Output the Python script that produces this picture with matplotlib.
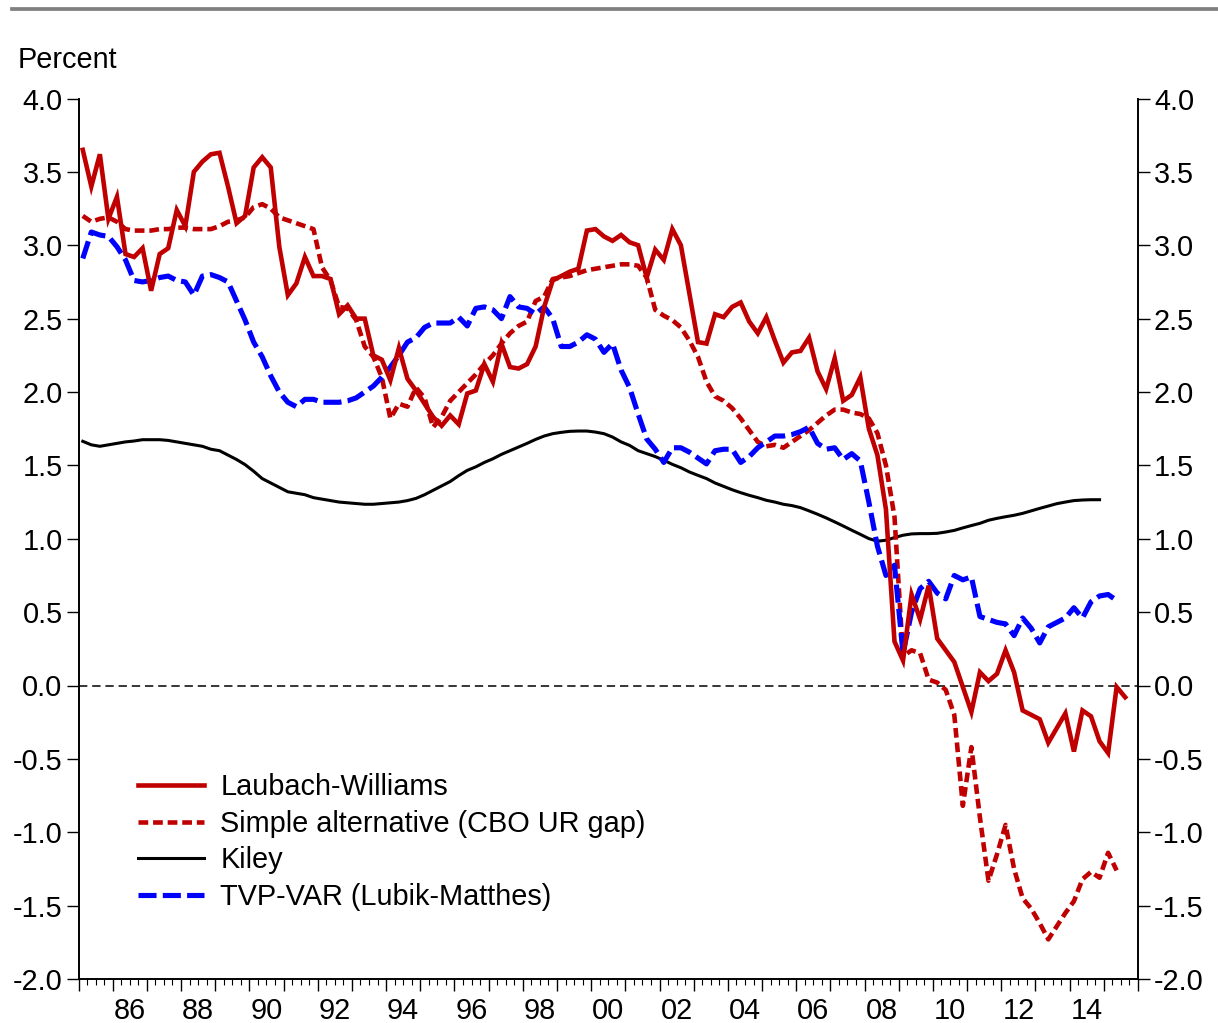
import numpy as np
import matplotlib
matplotlib.use("Agg")
import matplotlib.pyplot as plt
from matplotlib.lines import Line2D
from matplotlib.ticker import MultipleLocator, FixedLocator, NullFormatter

plt.rcParams["font.family"] = ["Liberation Sans", "DejaVu Sans"]
plt.rcParams["axes.unicode_minus"] = False
plt.rcParams["lines.scale_dashes"] = False

# quarterly estimates, first value = 1985Q1
START_YEAR = 1985

laubach_williams = [
    3.65, 3.40, 3.62, 3.18, 3.33, 2.94, 2.92, 2.98, 2.69, 2.94, 2.98, 3.24,
    3.13, 3.50, 3.57, 3.62, 3.63, 3.40, 3.15, 3.20, 3.53, 3.60, 3.53, 2.99,
    2.66, 2.74, 2.92, 2.79, 2.79, 2.77, 2.53, 2.59, 2.50, 2.50, 2.25, 2.22,
    2.08, 2.30, 2.09, 2.01, 1.92, 1.83, 1.77, 1.84, 1.78, 1.99, 2.01, 2.19,
    2.07, 2.33, 2.17, 2.16, 2.19, 2.31, 2.58, 2.76, 2.79, 2.82, 2.84, 3.10,
    3.11, 3.06, 3.03, 3.07, 3.02, 3.00, 2.78, 2.97, 2.90, 3.11, 3.00, 2.67,
    2.34, 2.33, 2.53, 2.51, 2.58, 2.61, 2.48, 2.40, 2.51, 2.35, 2.20, 2.27,
    2.28, 2.37, 2.14, 2.02, 2.23, 1.94, 1.98, 2.10, 1.75, 1.57, 1.20, 0.30,
    0.17, 0.62, 0.45, 0.68, 0.32, 0.24, 0.16, -0.01, -0.18, 0.09, 0.03, 0.08,
    0.24, 0.09, -0.17, -0.20, -0.23, -0.39, -0.29, -0.19, -0.45, -0.17, -0.21, -0.38,
    -0.46, -0.01, -0.08,
]

simple_alt = [
    3.20, 3.16, 3.18, 3.19, 3.16, 3.11, 3.10, 3.10, 3.10, 3.11, 3.11, 3.12,
    3.12, 3.11, 3.11, 3.11, 3.13, 3.16, 3.17, 3.19, 3.26, 3.28, 3.25, 3.19,
    3.17, 3.15, 3.13, 3.11, 2.85, 2.76, 2.58, 2.57, 2.49, 2.31, 2.24, 2.10,
    1.82, 1.92, 1.90, 2.03, 1.96, 1.76, 1.83, 1.94, 2.00, 2.06, 2.12, 2.19,
    2.25, 2.33, 2.40, 2.45, 2.48, 2.62, 2.65, 2.77, 2.78, 2.79, 2.81, 2.83,
    2.84, 2.85, 2.86, 2.87, 2.87, 2.86, 2.78, 2.56, 2.52, 2.49, 2.44, 2.35,
    2.24, 2.07, 1.97, 1.94, 1.89, 1.82, 1.74, 1.66, 1.63, 1.64, 1.62, 1.66,
    1.70, 1.74, 1.79, 1.84, 1.88, 1.88, 1.86, 1.85, 1.82, 1.72, 1.50, 1.15,
    0.20, 0.24, 0.22, 0.04, 0.02, -0.03, -0.20, -0.82, -0.42, -0.90, -1.33, -1.15,
    -0.95, -1.25, -1.45, -1.52, -1.62, -1.73, -1.64, -1.55, -1.47, -1.32, -1.27, -1.31,
    -1.14, -1.26,
]

kiley = [
    1.664, 1.640, 1.630, 1.640, 1.650, 1.660, 1.666, 1.675, 1.675, 1.675, 1.670, 1.660,
    1.650, 1.640, 1.630, 1.610, 1.600, 1.570, 1.540, 1.505, 1.460, 1.410, 1.380, 1.350,
    1.320, 1.310, 1.300, 1.280, 1.270, 1.260, 1.250, 1.245, 1.240, 1.235, 1.235, 1.240,
    1.245, 1.250, 1.260, 1.275, 1.300, 1.330, 1.360, 1.390, 1.430, 1.466, 1.490, 1.520,
    1.545, 1.575, 1.600, 1.625, 1.650, 1.677, 1.700, 1.716, 1.725, 1.732, 1.734, 1.734,
    1.727, 1.716, 1.693, 1.660, 1.636, 1.600, 1.580, 1.560, 1.535, 1.507, 1.484, 1.455,
    1.432, 1.410, 1.380, 1.357, 1.334, 1.314, 1.296, 1.280, 1.262, 1.250, 1.235, 1.226,
    1.212, 1.190, 1.167, 1.142, 1.115, 1.087, 1.058, 1.030, 1.001, 0.983, 0.990, 1.008,
    1.024, 1.033, 1.035, 1.035, 1.037, 1.046, 1.057, 1.074, 1.090, 1.105, 1.126, 1.139,
    1.150, 1.160, 1.173, 1.190, 1.207, 1.223, 1.239, 1.250, 1.260, 1.264, 1.266, 1.266,
]

tvp_var = [
    2.91, 3.09, 3.07, 3.06, 2.99, 2.90, 2.76, 2.75, 2.76, 2.78, 2.79, 2.76,
    2.75, 2.66, 2.79, 2.80, 2.78, 2.75, 2.62, 2.49, 2.34, 2.24, 2.11, 2.00,
    1.93, 1.90, 1.95, 1.95, 1.93, 1.93, 1.93, 1.94, 1.96, 2.00, 2.04, 2.10,
    2.17, 2.25, 2.34, 2.37, 2.44, 2.47, 2.47, 2.47, 2.51, 2.45, 2.57, 2.58,
    2.56, 2.50, 2.65, 2.58, 2.57, 2.53, 2.58, 2.50, 2.31, 2.31, 2.34, 2.39,
    2.36, 2.27, 2.33, 2.15, 2.03, 1.85, 1.68, 1.61, 1.52, 1.62, 1.62, 1.59,
    1.55, 1.51, 1.60, 1.61, 1.61, 1.52, 1.56, 1.62, 1.66, 1.70, 1.70, 1.71,
    1.73, 1.76, 1.65, 1.61, 1.62, 1.54, 1.58, 1.53, 1.25, 0.95, 0.75, 0.82,
    0.22, 0.50, 0.66, 0.71, 0.63, 0.59, 0.75, 0.72, 0.74, 0.47, 0.45, 0.43,
    0.42, 0.34, 0.46, 0.39, 0.29, 0.40, 0.43, 0.46, 0.53, 0.46, 0.57, 0.61,
    0.62, 0.58,
]

year_labels = ["86", "88", "90", "92", "94", "96", "98", "00", "02", "04", "06", "08", "10", "12", "14"]
label_years = list(range(1986, 2015, 2))
y_ticks = [4.0, 3.5, 3.0, 2.5, 2.0, 1.5, 1.0, 0.5, 0.0, -0.5, -1.0, -1.5, -2.0]


def quarter_x(values):
    # each quarter is drawn at the middle of its interval
    return START_YEAR + (np.arange(len(values)) + 0.5) / 4.0


RED = "#C00000"
BLUE = "#0000FF"
FS = 20.8

fig = plt.figure(figsize=(12.18, 10.23), dpi=100)
ax = fig.add_axes([78.5 / 1218, 44 / 1023, (1138 - 78.5) / 1218, (979 - 98.5) / 1023])

ax.axhline(0, color="black", lw=1.1, dashes=(6, 3.5), zorder=1)

ax.plot(quarter_x(laubach_williams), laubach_williams, color=RED, lw=3.3,
        solid_joinstyle="miter", label="Laubach-Williams", zorder=4)
ax.plot(quarter_x(simple_alt), simple_alt, color=RED, lw=3.3, dashes=(7, 3.5),
        label="Simple alternative (CBO UR gap)", zorder=3)
ax.plot(quarter_x(kiley), kiley, color="black", lw=2.2,
        label="Kiley", zorder=2)
ax.plot(quarter_x(tvp_var), tvp_var, color=BLUE, lw=3.7, dashes=(13, 4.5),
        label="TVP-VAR (Lubik-Matthes)", zorder=3)

ax.set_xlim(1985, 2016)
ax.set_ylim(-2.0, 4.0)

ax.spines["top"].set_visible(False)
for side in ["left", "right", "bottom"]:
    ax.spines[side].set_linewidth(1.4)

ax.yaxis.set_major_locator(FixedLocator(y_ticks))
ax.set_yticklabels([f"{v:.1f}" for v in y_ticks])
ax.tick_params(axis="y", which="major", direction="out", length=8.5, width=1.0,
               labelsize=FS, left=True, right=True, labelleft=True, labelright=True, pad=3)

ax.xaxis.set_major_locator(MultipleLocator(1))
ax.xaxis.set_minor_locator(MultipleLocator(0.25))
ax.xaxis.set_major_formatter(NullFormatter())
ax.tick_params(axis="x", which="major", direction="out", length=8.5, width=1.0)
ax.tick_params(axis="x", which="minor", direction="out", length=4.3, width=0.8)

for yr, lab in zip(label_years, year_labels):
    ax.annotate(lab, xy=(yr + 0.5, 0), xycoords=("data", "axes fraction"),
                xytext=(0, -28.5), textcoords="offset points",
                ha="center", va="baseline", fontsize=FS)

fig.text(18 / 1218, 1 - 68 / 1023, "Percent", fontsize=FS, va="baseline", ha="left")

# grey rule across the top of the page
fig.add_artist(Line2D([12 / 1218, 1.0], [1 - 8.5 / 1023, 1 - 8.5 / 1023],
                      transform=fig.transFigure, color="#808080", lw=2.7))

ax.legend(loc="upper left", bbox_to_anchor=(138 / 1218, 1 - 773 / 1023),
          bbox_transform=fig.transFigure, frameon=False, fontsize=FS,
          handlelength=2.3, handletextpad=0.55, labelspacing=0.30,
          borderpad=0, borderaxespad=0)

fig.savefig("out.png", dpi=100)
